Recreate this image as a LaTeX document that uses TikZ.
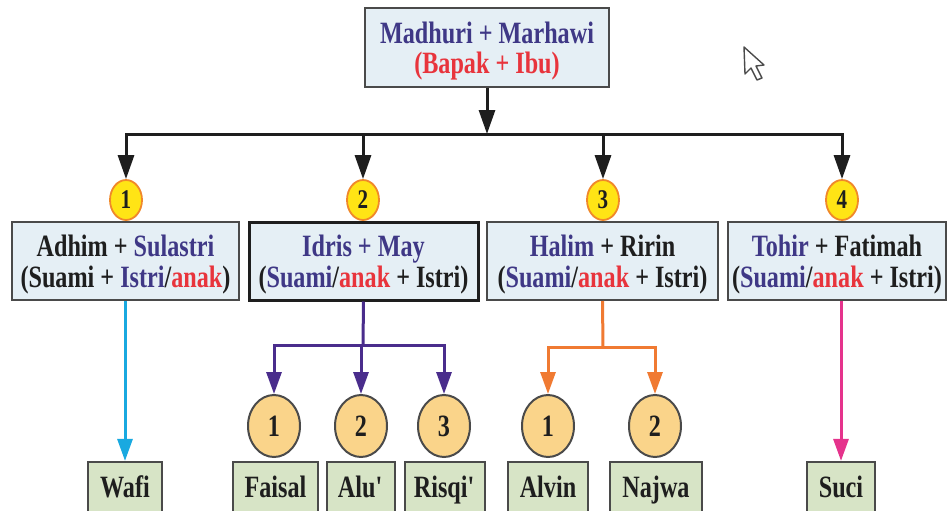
\documentclass[tikz,border=0pt]{standalone}
\usepackage{fontspec}
\setmainfont{Liberation Serif}[FakeStretch=0.78]
\usetikzlibrary{arrows.meta,shapes.geometric}
\definecolor{nmP}{HTML}{3F3886}
\definecolor{nmR}{HTML}{E8343C}
\definecolor{nmK}{HTML}{1E1E1E}
\definecolor{boxB}{HTML}{E5EFF5}
\definecolor{boxG}{HTML}{D7E4C6}
\definecolor{boxD}{HTML}{4A4A4A}
\definecolor{circY}{HTML}{FFE415}
\definecolor{circO}{HTML}{F0882A}
\definecolor{circL}{HTML}{FAD48A}
\definecolor{lnP}{HTML}{4A2D8C}
\definecolor{lnO}{HTML}{F07A32}
\definecolor{lnC}{HTML}{19A9E0}
\definecolor{lnM}{HTML}{E5338C}
\tikzset{
  pbox/.style={draw=boxD, line width=2pt, fill=boxB, minimum height=78pt, inner sep=0pt},
  txt/.style={font=\bfseries\fontsize{31}{31}\selectfont, align=center, text=nmK, inner sep=0pt},
  kbox/.style={draw=boxD, line width=2.2pt, fill=boxG, minimum height=56pt, text height=21pt, text depth=7pt, inner sep=0pt, font=\bfseries\fontsize{31}{31}\selectfont, text=nmK},
  numc/.style={ellipse, draw=circO, line width=1.8pt, fill=circY, minimum width=32pt, minimum height=40pt, inner sep=0pt, font=\bfseries\fontsize{27}{27}\selectfont, text=nmK},
  kidc/.style={ellipse, draw=boxD, line width=2pt, fill=circL, minimum width=52pt, minimum height=62pt, inner sep=0pt, font=\bfseries\fontsize{31}{31}\selectfont, text=nmK},
  blk/.style={draw=nmK, line width=3pt},
  blkarr/.style={blk, -{Triangle[length=24pt,width=16pt]}},
  carr/.style={line width=3pt, -{Triangle[length=22pt,width=15pt]}},
}
\begin{document}
\begin{tikzpicture}[x=1pt,y=-1pt]
\useasboundingbox (0,0) rectangle (948,511);
% top box
\node[pbox, minimum width=244pt, minimum height=79pt] (top) at (487,47.5) {};
\node[txt, font=\bfseries\fontsize{31}{30}\selectfont] (toptxt) at (487,51) {\textcolor{nmP}{Madhuri + Marhawi}\\\textcolor{nmR}{(Bapak + Ibu)}};
% second row boxes
\node[pbox, minimum width=227pt] (p1) at (125.5,261) {};
\node[pbox, minimum width=229pt, draw=nmK, line width=3pt] (p2) at (363.5,261) {};
\node[pbox, minimum width=231pt] (p3) at (602.5,261) {};
\node[pbox, minimum width=218pt] (p4) at (837,261) {};
\node[txt] (t1) at (125.5,265) {Adhim + \textcolor{nmP}{Sulastri}\\(Suami + \textcolor{nmP}{Istri}/\textcolor{nmR}{anak})};
\node[txt] (t2) at (363.5,265) {\textcolor{nmP}{Idris + May}\\(\textcolor{nmP}{Suami}/\textcolor{nmR}{anak} + Istri)};
\node[txt] (t3) at (602.5,265) {\textcolor{nmP}{Halim} + Ririn\\(\textcolor{nmP}{Suami}/\textcolor{nmR}{anak} + Istri)};
\node[txt] (t4) at (837,265) {\textcolor{nmP}{Tohir} + Fatimah\\(\textcolor{nmP}{Suami}/\textcolor{nmR}{anak} + Istri)};
% number circles
\node[numc] (c1) at (126,200) {1};
\node[numc] (c2) at (363,200) {2};
\node[numc] (c3) at (603,200) {3};
\node[numc] (c4) at (842,200) {4};
% black connectors
\coordinate (bar) at (487,134);
\draw[blkarr] (top.south) -- (bar);
\draw[blk, line cap=rect] (c1 |- bar) -- (c4 |- bar);
\foreach \c in {c1,c2,c3,c4} \draw[blkarr] (\c |- bar) -- (\c.north);
% children boxes
\node[kbox, minimum width=74pt] (w) at (125,490) {Wafi};
\node[kbox, minimum width=85pt] (f) at (275.5,490) {Faisal};
\node[kbox, minimum width=68pt] (al) at (361,490) {Alu\textquotesingle};
\node[kbox, minimum width=80pt] (r) at (445,490) {Risqi\textquotesingle};
\node[kbox, minimum width=80pt] (av) at (548,490) {Alvin};
\node[kbox, minimum width=92pt] (nj) at (656,490) {Najwa};
\node[kbox, minimum width=68pt] (s) at (841,490) {Suci};
% children circles
\node[kidc] (k1) at (274,426) {1};
\node[kidc] (k2) at (361,426) {2};
\node[kidc] (k3) at (444,426) {3};
\node[kidc] (k4) at (548,426) {1};
\node[kidc] (k5) at (655,426) {2};
% colored connectors
\draw[carr, draw=lnC, fill=lnC] (w |- p1.south) -- (w.north);
\draw[carr, draw=lnM, fill=lnM] (s |- p4.south) -- (s.north);
\coordinate (h2) at (363,345);
\draw[line width=3pt, draw=lnP] (p2.south) -- (h2);
\draw[line width=3pt, draw=lnP, line cap=rect] (k1 |- h2) -- (k3 |- h2);
\foreach \k in {k1,k2,k3} \draw[carr, draw=lnP, fill=lnP] (\k |- h2) -- (\k.north);
\coordinate (h3) at (603,347);
\draw[line width=3pt, draw=lnO] (p3.south) -- (h3);
\draw[line width=3pt, draw=lnO, line cap=rect] (k4 |- h3) -- (k5 |- h3);
\foreach \k in {k4,k5} \draw[carr, draw=lnO, fill=lnO] (\k |- h3) -- (\k.north);
% cursor
\draw[line width=1.4pt, draw=nmK!80, fill=white, line join=round]
  (744,47) -- (745,74) -- (751,68) -- (757,80) -- (762,78) -- (756,66) -- (764,65) -- cycle;
\end{tikzpicture}
\end{document}
